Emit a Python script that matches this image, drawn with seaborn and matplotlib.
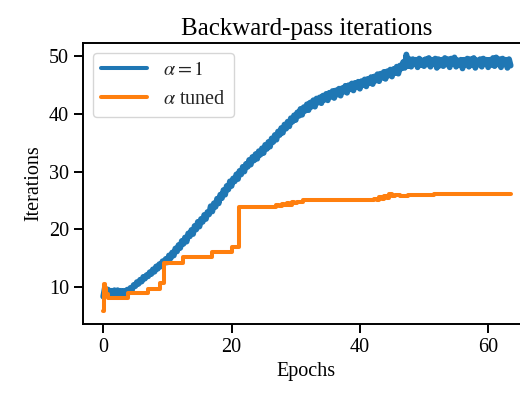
import numpy as np
import pandas as pd
import matplotlib
matplotlib.use('Agg')
import matplotlib.pyplot as plt
import seaborn as sns

# alpha = 1 run, four readings per epoch (one row per epoch)
epochs_blue = np.arange(0, 63.75, 0.25)
iters_blue = [
    8.4, 9.9, 9.0, 9.6,
    8.8, 9.4, 8.9, 9.5,
    8.9, 9.5, 9.0, 9.4,
    8.8, 9.4, 8.9, 9.6,
    9.1, 9.9, 9.6, 10.4,
    10.2, 10.9, 10.6, 11.3,
    11.0, 11.8, 11.5, 12.1,
    11.9, 12.6, 12.3, 13.1,
    12.7, 13.6, 13.2, 14.0,
    13.6, 14.5, 14.1, 14.9,
    14.3, 15.5, 15.0, 16.0,
    15.5, 16.7, 16.2, 17.3,
    16.8, 18.0, 17.5, 18.6,
    17.9, 19.3, 18.8, 19.9,
    19.2, 20.6, 20.0, 21.3,
    20.5, 21.8, 21.3, 22.5,
    21.8, 23.0, 22.6, 24.0,
    23.1, 24.5, 23.9, 25.3,
    24.5, 26.0, 25.4, 26.8,
    26.0, 27.5, 26.9, 28.3,
    27.5, 28.8, 28.3, 29.5,
    28.7, 30.1, 29.5, 30.8,
    30.0, 31.3, 30.8, 32.0,
    31.2, 32.5, 31.9, 33.0,
    32.2, 33.5, 32.9, 34.0,
    33.2, 34.6, 33.9, 35.1,
    34.3, 35.7, 35.1, 36.3,
    35.5, 36.9, 36.3, 37.5,
    36.7, 38.1, 37.4, 38.6,
    37.8, 39.2, 38.6, 39.7,
    38.9, 40.2, 39.6, 40.8,
    39.8, 41.1, 40.5, 41.6,
    40.6, 41.9, 41.2, 42.3,
    41.2, 42.6, 41.9, 42.8,
    41.8, 43.1, 42.4, 43.4,
    42.3, 43.6, 42.9, 43.9,
    42.7, 44.0, 43.3, 44.3,
    43.1, 44.4, 43.8, 44.8,
    43.6, 44.9, 44.2, 45.2,
    44.0, 45.3, 44.6, 45.5,
    44.3, 45.6, 44.9, 45.9,
    44.7, 46.0, 45.3, 46.3,
    45.1, 46.4, 45.7, 46.8,
    45.6, 46.9, 46.2, 47.2,
    46.0, 47.3, 46.6, 47.6,
    46.4, 47.7, 47.0, 48.1,
    46.9, 48.3, 47.8, 48.9,
    47.9, 50.2, 48.2, 49.4,
    48.1, 49.4, 48.6, 49.3,
    48.0, 49.5, 48.4, 49.2,
    48.2, 49.4, 48.5, 49.6,
    48.1, 49.3, 48.6, 49.5,
    47.9, 49.4, 48.3, 49.3,
    48.2, 49.6, 48.5, 49.4,
    48.0, 49.5, 48.6, 49.7,
    48.1, 49.2, 48.4, 49.3,
    47.8, 49.3, 48.5, 49.5,
    48.1, 49.4, 48.4, 49.6,
    47.9, 49.2, 48.5, 49.4,
    48.1, 49.5, 48.6, 49.3,
    48.0, 49.3, 48.4, 49.6,
    48.2, 49.7, 48.5, 49.4,
    48.0, 49.5, 48.6, 49.3,
    47.9, 49.4, 48.3,
]

# tuned alpha: piecewise-constant, value holds until the next epoch listed
epochs_orange = [0, 0.15, 0.3, 0.45, 0.7, 3.9, 7.0, 8.9, 9.4, 12.4,
                 16.9, 20.0, 21.2, 27.0, 27.4, 27.8, 28.2, 28.6, 29.0, 29.4,
                 29.8, 30.2, 30.6, 31.2, 42.2, 42.6, 43.0, 43.4, 43.8, 44.2,
                 44.6, 45.0, 45.4, 46.3, 47.5, 51.5, 63.5]
iters_orange = [5.9, 10.5, 9.8, 8.9, 8.15, 9.0, 9.7, 10.7, 14.2, 15.3,
                16.15, 17.0, 23.9, 24.2, 24.0, 24.4, 24.2, 24.6, 24.3, 24.7,
                24.5, 24.8, 24.7, 25.0, 25.3, 25.0, 25.6, 25.3, 25.8, 25.5,
                26.1, 25.8, 26.0, 25.8, 25.9, 26.1, 26.1]

sns.set_theme(style='ticks')
plt.rcParams['font.family'] = ['Liberation Serif', 'DejaVu Serif']
plt.rcParams['mathtext.fontset'] = 'stix'
plt.rcParams['axes.edgecolor'] = 'black'
plt.rcParams['axes.linewidth'] = 1.4
plt.rcParams['path.simplify'] = False  # keep every wiggle of the noisy run

fig = plt.figure(figsize=(5.2, 3.95), dpi=100)
ax = fig.add_axes([0.159, 0.1797, 0.860, 0.7114])

# noisy run drawn a bit heavier so the jitter reads as a solid band
sns.lineplot(x=epochs_blue, y=iters_blue, ax=ax, color='#1f77b4',
             lw=4.2, label=r'$\alpha = 1$')
sns.lineplot(x=epochs_orange, y=iters_orange, ax=ax, color='#ff7f0e',
             lw=2.9, drawstyle='steps-post', label=r'$\alpha$ tuned')

ax.set_xlim(-3.2, 66.5)
ax.set_ylim(3.66, 52.19)
ax.set_xticks([0, 20, 40, 60])
ax.set_yticks([10, 20, 30, 40, 50])
ax.tick_params(axis='both', direction='out', length=6.3, width=1.4,
               color='black', labelsize=14.5, labelcolor='black')
for side in ['top', 'right']:
    ax.spines[side].set_visible(True)

ax.set_title("Backward-pass iterations", fontsize=18, color='black')
ax.set_xlabel("Epochs", fontsize=14.5, color='black')
ax.set_ylabel("Iterations", fontsize=14.5, color='black')

leg = ax.legend(loc='upper left', fontsize=14.5, handlelength=2.3,
                frameon=True, fancybox=True, framealpha=0.8, edgecolor='0.8')
for h in leg.get_lines():
    h.set_linewidth(2.9)

plt.savefig("out.png", dpi=100)
plt.close()
